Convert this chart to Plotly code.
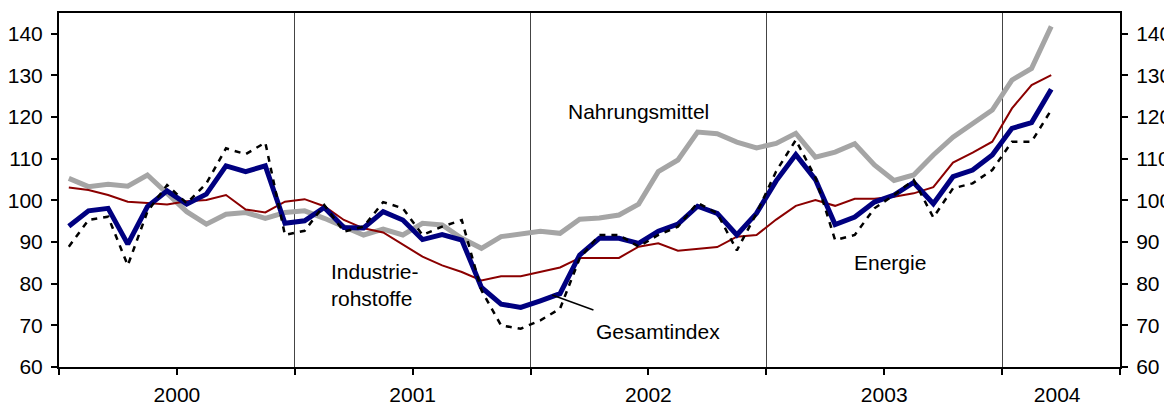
import plotly.graph_objects as go

# monthly index Jan 2000 .. Mar 2004
months = list(range(51))

gesamtindex = [93.8, 97.5, 98.1, 89.5, 98.5, 102.3, 99.1, 101.5, 108.3, 106.9, 108.3, 94.5,
               95.1, 98.3, 93.5, 93.4, 97.3, 95.3, 90.6, 91.8, 90.5, 79.1, 75.1, 74.3,
               75.9, 77.6, 86.9, 90.9, 90.9, 89.7, 92.6, 94.3, 98.6, 96.9, 91.7, 96.9,
               104.7, 111.0, 105.0, 94.2, 96.0, 99.6, 101.3, 104.3, 99.2, 105.7, 107.3, 110.9,
               117.3, 118.7, 126.7]
energie = [88.9, 95.3, 96.1, 84.4, 97.3, 103.7, 99.3, 104.1, 112.5, 111.1, 113.9, 91.7,
           92.7, 98.9, 92.5, 93.7, 99.6, 98.1, 91.7, 93.7, 95.3, 78.4, 70.0, 69.2,
           71.2, 74.0, 86.1, 91.7, 91.7, 88.9, 91.7, 93.7, 99.4, 96.9, 88.0, 96.9,
           107.0, 114.5, 105.5, 90.5, 91.7, 98.1, 101.3, 104.9, 95.9, 102.9, 104.1, 107.3,
           114.1, 114.1, 121.7]
nahrungsmittel = [105.3, 103.3, 103.9, 103.4, 106.1, 101.8, 97.3, 94.3, 96.7, 97.1, 95.7, 97.1,
                  97.5, 95.7, 93.8, 91.7, 93.1, 91.7, 94.5, 94.1, 90.9, 88.5, 91.3, 91.9,
                  92.6, 92.1, 95.5, 95.8, 96.5, 99.1, 106.9, 109.7, 116.4, 116.0, 114.0, 112.6,
                  113.7, 116.1, 110.4, 111.6, 113.6, 108.5, 104.8, 106.1, 110.9, 115.2, 118.5, 121.7,
                  128.9, 131.7, 141.8]
industrie = [103.1, 102.5, 101.3, 99.7, 99.4, 99.0, 99.8, 100.1, 101.3, 97.8, 97.1, 99.7,
             100.3, 98.6, 95.3, 93.3, 92.3, 89.3, 86.5, 84.4, 82.8, 80.8, 81.8, 81.8,
             82.8, 83.9, 86.2, 86.2, 86.2, 88.9, 89.7, 87.9, 88.3, 88.8, 91.3, 91.7,
             95.4, 98.7, 100.1, 98.7, 100.4, 100.4, 100.9, 101.7, 103.2, 109.1, 111.5, 114.1,
             122.1, 127.7, 130.1]

year_labels = ["2000", "2001", "2002", "2003", "2004"]
year_centers = [5.5, 17.5, 29.5, 41.5, 50.3]
year_bounds = [-0.5, 11.5, 23.5, 35.5, 47.5]
y_ticks = [60, 70, 80, 90, 100, 110, 120, 130, 140]

FONT = "Liberation Sans, Arial, Helvetica, sans-serif"
FS = 21

fig = go.Figure()
fig.add_trace(go.Scatter(x=months, y=nahrungsmittel, mode="lines", name="Nahrungsmittel",
                         line=dict(color="#a5a5a5", width=5)))
fig.add_trace(go.Scatter(x=months, y=industrie, mode="lines", name="Industrierohstoffe",
                         line=dict(color="#8b0000", width=2)))
fig.add_trace(go.Scatter(x=months, y=gesamtindex, mode="lines", name="Gesamtindex",
                         line=dict(color="#000080", width=5)))
fig.add_trace(go.Scatter(x=months, y=energie, mode="lines", name="Energie",
                         line=dict(color="black", width=2.5, dash="6px,6px")))
# invisible trace to activate secondary axes
fig.add_trace(go.Scatter(x=months, y=gesamtindex, mode="lines", xaxis="x2", yaxis="y2",
                         line=dict(width=0), hoverinfo="skip", showlegend=False, opacity=0))

xrange = [-0.5, 53.5]
yrange = [60, 145]

# page body has an 8px default margin, so the figure is sized to fit the window
fig.update_layout(
    width=1164, height=399,
    margin=dict(l=51, r=52, t=5, b=40),
    paper_bgcolor="white", plot_bgcolor="white",
    showlegend=False,
    font=dict(family=FONT, size=FS, color="black"),
    xaxis=dict(range=xrange, tickvals=year_bounds, ticktext=[""] * len(year_bounds),
               ticks="outside", ticklen=6, tickwidth=1.5, tickcolor="black",
               showgrid=True, gridcolor="#444444", gridwidth=1,
               minor=dict(tick0=-0.5, dtick=6, ticks="outside", ticklen=6, tickwidth=1.5,
                          tickcolor="black", showgrid=False),
               showline=True, linecolor="black", linewidth=2, mirror=True,
               zeroline=False, automargin=False),
    xaxis2=dict(range=xrange, overlaying="x", side="bottom", anchor="y",
                tickvals=year_centers, ticktext=year_labels, ticks="outside", ticklen=9,
                tickcolor="rgba(0,0,0,0)", showgrid=False, showline=False, zeroline=False,
                automargin=False, tickfont=dict(family=FONT, size=FS)),
    yaxis=dict(range=yrange, tickvals=y_ticks, ticks="outside", ticklen=6, tickwidth=1.5,
               tickcolor="black", showgrid=False, showline=True, linecolor="black",
               linewidth=2, mirror=True, zeroline=False, automargin=False,
               ticklabelstandoff=4, tickfont=dict(family=FONT, size=FS)),
    yaxis2=dict(range=yrange, tickvals=y_ticks, overlaying="y", side="right", anchor="x",
                ticks="outside", ticklen=6, tickwidth=1.5, tickcolor="black",
                showgrid=False, showline=True, linecolor="black", linewidth=2,
                zeroline=False, automargin=False, ticklabelstandoff=4,
                tickfont=dict(family=FONT, size=FS)),
)

fig.add_annotation(x=29.0, y=121.3, text="Nahrungsmittel", showarrow=False,
                   xanchor="center", yanchor="middle", font=dict(size=FS))
fig.add_annotation(x=13.25, y=79.6, text="Industrie-<br>rohstoffe", showarrow=False,
                   xanchor="left", yanchor="middle", align="left", font=dict(size=FS))
fig.add_annotation(x=30.0, y=68.6, text="Gesamtindex", showarrow=False,
                   xanchor="center", yanchor="middle", font=dict(size=FS))
fig.add_annotation(x=41.8, y=85.0, text="Energie", showarrow=False,
                   xanchor="center", yanchor="middle", font=dict(size=FS))
fig.add_shape(type="line", xref="x", yref="y", x0=24.6, y0=77.3, x1=26.7, y1=73.7,
              line=dict(color="black", width=1.5))

fig.write_html("out.html")
